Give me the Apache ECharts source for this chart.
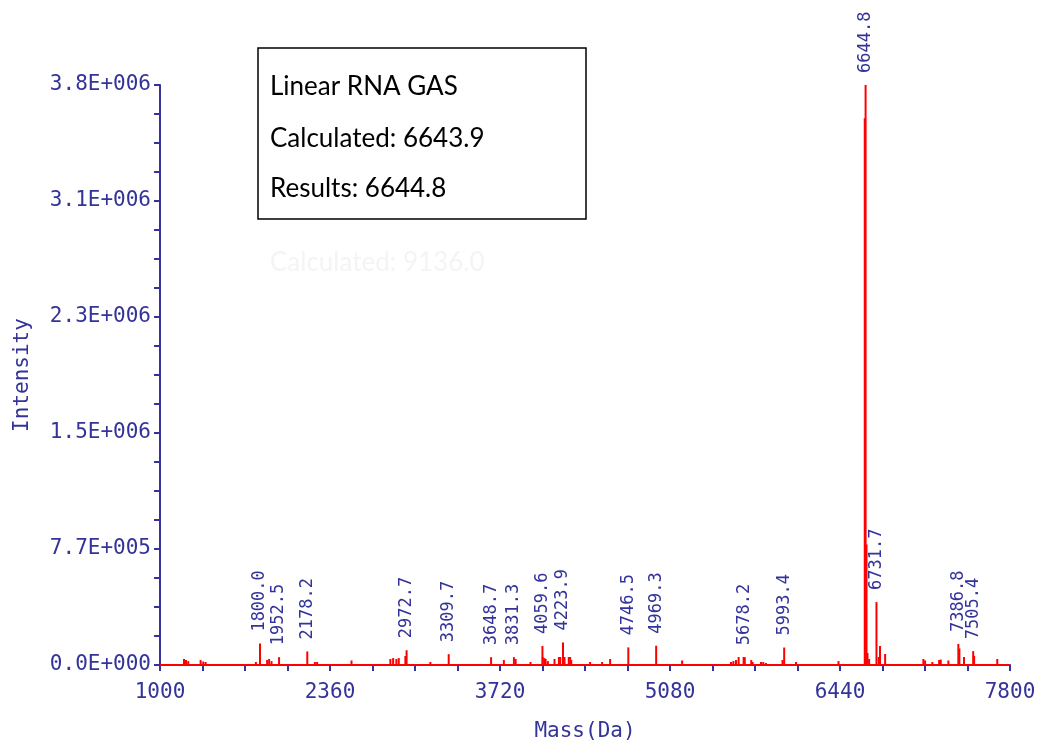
<!DOCTYPE html>
<html>
<head>
<meta charset="utf-8">
<script src="https://cdn.jsdelivr.net/npm/echarts@6/dist/echarts.min.js"></script>
<style>
  html, body { margin: 0; padding: 0; background: #fff; }
  #chart { width: 1041px; height: 749px; }
</style>
</head>
<body>
<div id="chart"></div>
<script>
// peaks that carry a mass label
const labeledMass = [1800.0, 1952.5, 2178.2, 2972.7, 3309.7, 3648.7, 3831.3, 4059.6, 4223.9,
  4746.5, 4969.3, 5678.2, 5993.4, 6644.8, 6731.7, 7386.8, 7505.4];
const labeledIntensity = [142000, 52000, 90000, 98000, 72000, 52000, 52000, 126000, 150000,
  117000, 128000, 52000, 116000, 3850000, 418000, 140000, 92000];

// small unlabeled peaks
const minorMass = [1192, 1208, 1226, 1325, 1346, 1365, 1767, 1857, 1873, 1892, 2239, 2257,
  2532, 2843, 2865, 2891, 2910, 2963, 3163, 3751, 3845, 3964, 4062, 4075, 4085, 4103,
  4156, 4191, 4202, 4236, 4270, 4281, 4290, 4441, 4537, 4601, 5177, 5568, 5587, 5608,
  5629, 5669, 5730, 5741, 5808, 5826, 5848, 5980, 6088, 6428, 6638, 6652, 6660, 6673,
  6750, 6760, 6801, 7107, 7121, 7179, 7233, 7246, 7307, 7395, 7432, 7513, 7698];
const minorIntensity = [40000, 33000, 26000, 33000, 23000, 20000, 20000, 33000, 40000, 26000, 20000, 20000,
  30000, 40000, 46000, 40000, 46000, 60000, 20000, 33000, 40000, 20000, 53000, 46000, 40000, 26000,
  40000, 53000, 53000, 53000, 53000, 53000, 33000, 20000, 20000, 40000, 30000, 20000, 26000, 33000,
  53000, 53000, 33000, 20000, 20000, 20000, 13000, 33000, 20000, 26000, 3630000, 800000, 80000, 40000,
  53000, 126000, 73000, 40000, 30000, 20000, 33000, 36000, 30000, 110000, 53000, 60000, 40000];

const yTickLabels = ['0.0E+000', '7.7E+005', '1.5E+006', '2.3E+006', '3.1E+006', '3.8E+006'];

const navy = '#333399';
const mono = 'DejaVu Sans Mono';

const peaks = minorMass.map((m, i) => ({ value: [m, minorIntensity[i]] }))
  .concat(labeledMass.map((m, i) => ({ value: [m, labeledIntensity[i]], label: { show: true } })));

const chart = echarts.init(document.getElementById('chart'));
chart.setOption({
  animation: false,
  grid: { left: 160, right: 31, top: 85, bottom: 84 },
  xAxis: {
    type: 'value',
    min: 1000,
    max: 7800,
    interval: 1360,
    offset: 2,
    name: 'Mass(Da)',
    nameLocation: 'middle',
    nameGap: 54,
    nameTextStyle: { color: navy, fontFamily: mono, fontSize: 21 },
    axisLine: { lineStyle: { color: navy, width: 2 } },
    axisTick: { length: 6, lineStyle: { color: navy, width: 2 } },
    minorTick: { show: true, splitNumber: 4, length: 6, lineStyle: { color: navy, width: 2 } },
    axisLabel: { color: navy, fontFamily: mono, fontSize: 21, margin: 15,
      formatter: v => String(v) },
    splitLine: { show: false }
  },
  yAxis: {
    type: 'value',
    min: 0,
    max: 3850000,
    interval: 770000,
    name: 'Intensity',
    nameLocation: 'middle',
    nameGap: 127,
    nameTextStyle: { color: navy, fontFamily: mono, fontSize: 21 },
    axisLine: { show: true, lineStyle: { color: navy, width: 2 } },
    axisTick: { show: true, length: 6, lineStyle: { color: navy, width: 2 } },
    minorTick: { show: true, splitNumber: 4, length: 6, lineStyle: { color: navy, width: 2 } },
    axisLabel: { color: navy, fontFamily: mono, fontSize: 21, margin: 9,
      formatter: (v, i) => yTickLabels[i] },
    splitLine: { show: false }
  },
  series: [{
    type: 'bar',
    barWidth: 2,
    itemStyle: { color: '#ff0000' },
    label: {
      show: false,
      position: 'top',
      rotate: 90,
      align: 'left',
      verticalAlign: 'middle',
      distance: 12,
      color: navy,
      fontFamily: mono,
      fontSize: 17,
      formatter: p => p.value[0].toFixed(1)
    },
    data: peaks,
    markLine: {
      silent: true,
      symbol: 'none',
      label: { show: false },
      lineStyle: { color: '#ff0000', width: 2, type: 'solid' },
      data: [{ yAxis: 0 }]
    }
  }],
  graphic: [
    { type: 'rect', shape: { x: 258, y: 48, width: 328, height: 171 },
      style: { fill: '#fff', stroke: '#000', lineWidth: 1.5 } },
    { type: 'text', x: 270, y: 87, style: { text: 'Linear RNA GAS', font: '26px Lato', fill: '#000', verticalAlign: 'middle' } },
    { type: 'text', x: 270, y: 139, style: { text: 'Calculated: 6643.9', font: '26px Lato', fill: '#000', verticalAlign: 'middle' } },
    { type: 'text', x: 270, y: 189, style: { text: 'Results: 6644.8', font: '26px Lato', fill: '#000', verticalAlign: 'middle' } },
    { type: 'text', x: 270, y: 263, style: { text: 'Calculated: 9136.0', font: '26px Lato', fill: '#f4f4f4', verticalAlign: 'middle' } }
  ]
});
</script>
</body>
</html>
